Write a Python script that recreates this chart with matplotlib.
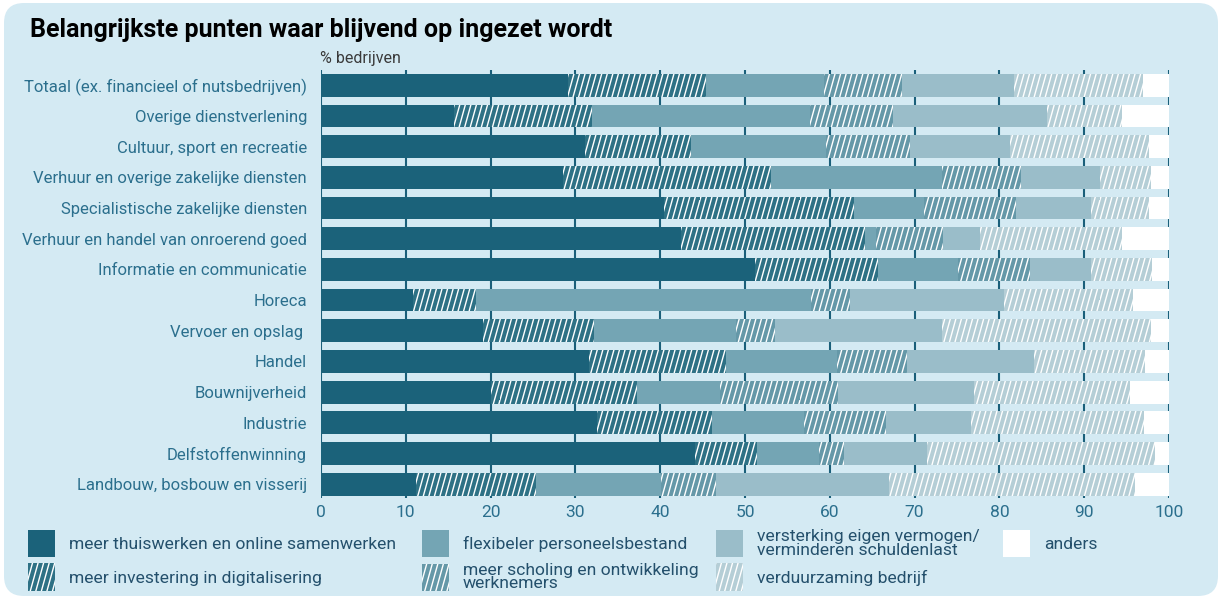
import matplotlib
matplotlib.use("Agg")
import matplotlib.pyplot as plt
import matplotlib.hatch as mhatch
from matplotlib.path import Path
from matplotlib.patches import FancyBboxPatch, Patch
import numpy as np

plt.rcParams['font.family'] = ['Roboto', 'DejaVu Sans']
plt.rcParams['hatch.linewidth'] = 1.0


class SteepHatch(mhatch.HatchPatternBase):
    """'/' hatch drawn with steep lines (like the reference)."""
    def __init__(self, hatch, density):
        self.num_lines = int(hatch.count('/') * density)
        self.num_vertices = self.num_lines * 4 if self.num_lines else 0

    def set_vertices_and_codes(self, vertices, codes):
        n = self.num_lines
        shift = 5 / 18
        x0 = np.arange(-n, n) / n
        v = np.empty((2 * n, 2, 2))
        v[:, 0, 0] = x0
        v[:, 0, 1] = 0.0
        v[:, 1, 0] = x0 + shift
        v[:, 1, 1] = 1.0
        vertices[:] = v.reshape(-1, 2)
        codes[0::2] = Path.MOVETO
        codes[1::2] = Path.LINETO


mhatch._hatch_types = [SteepHatch if t is mhatch.NorthEastHatch else t
                       for t in mhatch._hatch_types]

categories = [
    "Totaal (ex. financieel of nutsbedrijven)",
    "Overige dienstverlening",
    "Cultuur, sport en recreatie",
    "Verhuur en overige zakelijke diensten",
    "Specialistische zakelijke diensten",
    "Verhuur en handel van onroerend goed",
    "Informatie en communicatie",
    "Horeca",
    "Vervoer en opslag ",
    "Handel",
    "Bouwnijverheid",
    "Industrie",
    "Delfstoffenwinning",
    "Landbouw, bosbouw en visserij",
]

thuiswerken = [29.1, 15.7, 31.1, 28.5, 40.5, 42.4, 51.2, 10.9, 19.1, 31.6, 20.1, 32.5, 44.1, 11.2]
digitalisering = [16.3, 16.3, 12.5, 24.6, 22.4, 21.7, 14.5, 7.4, 13.1, 16.2, 17.2, 13.6, 7.3, 14.2]
flexibeler = [13.9, 25.7, 16.0, 20.1, 8.2, 1.4, 9.4, 39.5, 16.7, 13.0, 9.7, 10.9, 7.3, 14.7]
scholing = [9.2, 9.8, 9.9, 9.3, 10.9, 7.9, 8.5, 4.6, 4.6, 8.3, 14.0, 9.6, 3.0, 6.5]
vermogen = [13.2, 18.1, 11.8, 9.4, 8.8, 4.3, 7.2, 18.1, 19.7, 15.0, 16.0, 10.1, 9.8, 20.4]
verduurzaming = [15.2, 8.9, 16.3, 6.0, 6.8, 16.7, 7.2, 15.3, 24.7, 13.1, 18.4, 20.3, 26.9, 29.0]
anders = [3.1, 5.5, 2.4, 2.1, 2.4, 5.6, 2.0, 4.2, 2.1, 2.8, 4.6, 3.0, 1.6, 4.0]

series_labels = [
    "meer thuiswerken en online samenwerken",
    "meer investering in digitalisering",
    "flexibeler personeelsbestand",
    "meer scholing en ontwikkeling\nwerknemers",
    "versterking eigen vermogen/\nverminderen schuldenlast",
    "verduurzaming bedrijf",
    "anders",
]
series = [thuiswerken, digitalisering, flexibeler, scholing, vermogen, verduurzaming, anders]
colors = ["#1b627a", "#2e7185", "#74a5b4", "#6598a8", "#9abdc9", "#b5ced6", "#ffffff"]
hatches = [None, "///", None, "///", None, "///", None]

x_ticks = [0, 10, 20, 30, 40, 50, 60, 70, 80, 90, 100]

BG = "#d4eaf3"
GRID = "#1a5f7a"
LABEL = "#2b6f8d"
LEGTXT = "#24506c"

fig = plt.figure(figsize=(12.18, 5.96), dpi=100, facecolor="white")
box = FancyBboxPatch((0.04, 0.0), 12.14, 5.93,
                     boxstyle="round,pad=0,rounding_size=0.2",
                     transform=fig.dpi_scale_trans, facecolor=BG,
                     edgecolor="none", zorder=-10)
fig.add_artist(box)

ax = fig.add_axes([321 / 1218, 1 - 498 / 596, 848 / 1218, 428 / 596])
ax.set_facecolor("none")
ax.set_zorder(5)

y = np.arange(len(categories))
left = np.zeros(len(categories))
for vals, c, h in zip(series, colors, hatches):
    vals = np.array(vals)
    if h:
        ax.barh(y, vals, left=left, height=0.74, color=c, edgecolor="white",
                linewidth=0, hatch=h, zorder=3)
    else:
        ax.barh(y, vals, left=left, height=0.74, color=c, linewidth=0, zorder=3)
    left += vals

ax.set_xlim(0, 100)
ax.set_ylim(13.45, -0.5)
ax.set_xticks(x_ticks)
ax.set_xticklabels([str(t) for t in x_ticks])
ax.set_yticks(y)
ax.set_yticklabels(categories)
for s in ax.spines.values():
    s.set_visible(False)
ax.xaxis.grid(True, color=GRID, linewidth=1.5, zorder=1)
ax.set_axisbelow(True)
ax.tick_params(axis="x", length=0, pad=5, labelsize=12.5, labelcolor=LABEL)
ax.tick_params(axis="y", length=0, pad=10, labelsize=12, labelcolor=LABEL)

fig.text(30 / 1218, 1 - 30 / 596, "Belangrijkste punten waar blijvend op ingezet wordt",
         fontsize=18, fontweight="bold", color="black", va="center", ha="left")
fig.text(320 / 1218, 1 - 58 / 596, "% bedrijven", fontsize=11.5, color="#3a3a3a",
         va="center", ha="left")

# legend: one entry per legend so rows align across columns
col_x = [28, 422, 716, 1003]
row_y = [543.5, 577]
positions = [(0, 0), (0, 1), (1, 0), (1, 1), (2, 0), (2, 1), (3, 0)]
for i, (ci, ri) in enumerate(positions):
    if hatches[i]:
        h = Patch(facecolor=colors[i], edgecolor="white", linewidth=0,
                  hatch=hatches[i], label=series_labels[i])
    else:
        h = Patch(facecolor=colors[i], linewidth=0, label=series_labels[i])
    leg = fig.legend(handles=[h], loc="center left",
                     bbox_to_anchor=(col_x[ci] / 1218, 1 - row_y[ri] / 596),
                     frameon=False, fontsize=12.6, handlelength=1.54, handleheight=2.0,
                     handletextpad=0.8, borderpad=0, borderaxespad=0,
                     labelcolor=LEGTXT)
    for t in leg.get_texts():
        t.set_linespacing(0.85)

fig.savefig("out.png", dpi=100, facecolor="white")
